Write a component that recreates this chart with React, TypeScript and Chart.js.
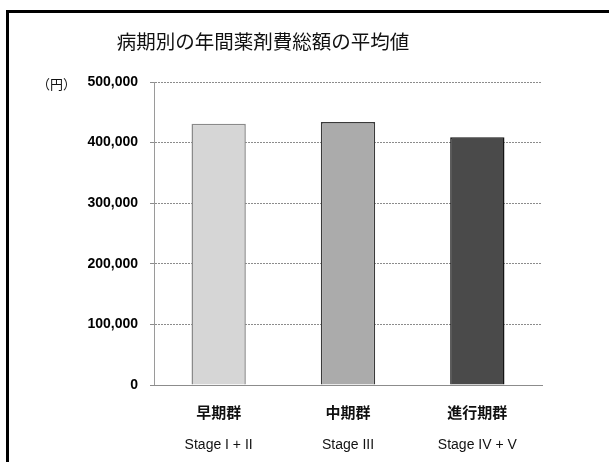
import React, { useEffect, useRef } from "react";
import { Chart, registerables } from "chart.js";

Chart.register(...registerables);

const titleText = "病期別の年間薬剤費総額の平均値";
const unitText = "（円）";
const groupLabels = ["早期群", "中期群", "進行期群"];
const stageLabels = ["Stage I + II", "Stage III", "Stage IV + V"];
const costValues = [431000, 434000, 409000];
const barColors = ["#d6d6d6", "#ababab", "#4a4a4a"];
const barBorders = ["#8a8a8a", "#3a3a3a", "#141414"];
const yMax = 500000;
const yStep = 100000;

const decorPlugin = {
  id: "decor",
  beforeDraw(chart: any) {
    const { ctx } = chart;
    ctx.save();
    ctx.fillStyle = "#ffffff";
    ctx.fillRect(0, 0, chart.width, chart.height);
    ctx.restore();
  },
  afterDraw(chart: any) {
    const { ctx, chartArea } = chart;
    ctx.save();
    ctx.strokeStyle = "#000";
    ctx.lineWidth = 3;
    ctx.strokeRect(7.5, 11.5, 800, 700);
    ctx.fillStyle = "#111";
    ctx.font = '19.5px "Noto Sans CJK JP"';
    ctx.textAlign = "center";
    ctx.textBaseline = "middle";
    ctx.fillText(titleText, 263, 42);
    ctx.font = '13px "Noto Sans CJK JP"';
    ctx.textAlign = "left";
    ctx.fillText(unitText, 37, chartArea.top + 2);
    ctx.restore();
  },
};

export default function App() {
  const ref = useRef<HTMLCanvasElement | null>(null);
  useEffect(() => {
    if (!ref.current) return;
    const dotted = [2, 1];
    const chart = new Chart(ref.current, {
      type: "bar",
      data: {
        labels: groupLabels,
        datasets: [
          {
            data: costValues,
            backgroundColor: barColors,
            borderColor: barBorders,
            borderWidth: 1.5,
            barPercentage: 0.42,
            categoryPercentage: 1,
          },
        ],
      },
      options: {
        responsive: false,
        animation: false,
        layout: { padding: { top: 82, left: 10, right: 67, bottom: 10 } },
        plugins: {
          legend: { display: false },
          title: { display: false },
          tooltip: { enabled: false },
        },
        scales: {
          y: {
            min: 0,
            max: yMax,
            ticks: {
              stepSize: yStep,
              padding: 12,
              color: "#000",
              font: { family: '"Liberation Sans"', size: 14, weight: "bold" },
              callback: (v: any) => Number(v).toLocaleString("en-US"),
            },
            grid: { color: "#8c8c8c", tickLength: 4 },
            border: { display: true, color: "#9a9a9a", dash: dotted },
            afterFit: (s: any) => {
              s.width = 144;
            },
          },
          x: {
            grid: { display: false, drawTicks: false },
            border: { display: true, color: "#8c8c8c", dash: dotted },
            ticks: {
              padding: 18,
              color: "#111",
              font: { family: '"Noto Sans CJK JP"', size: 15, weight: "bold" },
            },
            afterFit: (s: any) => {
              s.height = 38;
            },
          },
          x2: {
            type: "category",
            position: "bottom",
            labels: stageLabels,
            offset: true,
            grid: { display: false, drawTicks: false },
            border: { display: false },
            ticks: {
              padding: 14,
              color: "#111",
              font: { family: '"Liberation Sans"', size: 14 },
            },
            afterFit: (s: any) => {
              s.height = 29;
            },
          },
        },
      } as any,
      plugins: [decorPlugin],
    });
    return () => chart.destroy();
  }, []);
  return (
    <div style={{ position: "absolute", left: 0, top: 0, width: 609, height: 462 }}>
      <canvas ref={ref} width={609} height={462} style={{ display: "block" }} />
    </div>
  );
}
